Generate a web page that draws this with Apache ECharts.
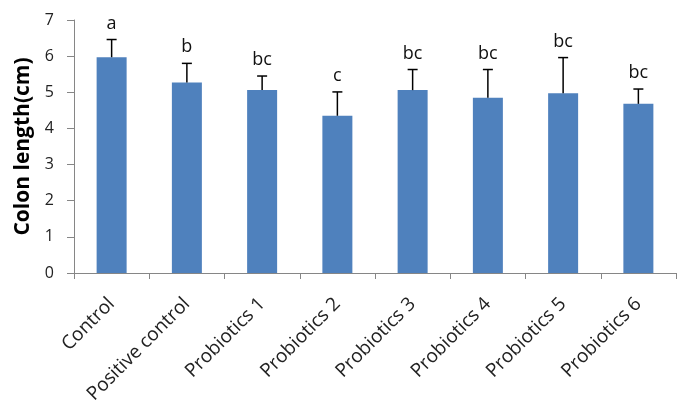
<!DOCTYPE html>
<html><head><meta charset="utf-8">
<script src="https://cdn.jsdelivr.net/npm/echarts@6/dist/echarts.min.js"></script>
<style>html,body{margin:0;padding:0;background:#fff}#c{width:694px;height:412px}</style>
</head><body><div id="c"></div>
<script>
var categories = ['Control','Positive control','Probiotics 1','Probiotics 2','Probiotics 3','Probiotics 4','Probiotics 5','Probiotics 6'];
var means = [5.97, 5.27, 5.06, 4.35, 5.06, 4.85, 4.97, 4.68];
var sds = [0.49, 0.53, 0.39, 0.66, 0.57, 0.78, 0.99, 0.41];
var letters = ['a','b','bc','c','bc','bc','bc','bc'];
var yTicks = [0,1,2,3,4,5,6,7];

var errData = means.map(function(m,i){return [i, m, m+sds[i], letters[i]];});
var chart = echarts.init(document.getElementById('c'));
var font = 'Open Sans';
chart.setOption({
  animation:false,
  grid:{left:74,right:18,top:20,bottom:139,containLabel:false},
  xAxis:{type:'category',data:categories,boundaryGap:true,
    axisLine:{lineStyle:{color:'#868686',width:1}},
    axisTick:{show:true,alignWithLabel:false,length:6,lineStyle:{color:'#868686'}},
    axisLabel:{rotate:45,color:'#222',fontSize:19,fontFamily:font,margin:28,interval:0}},
  yAxis:{type:'value',min:0,max:7,interval:1,
    name:'Colon length(cm)',nameLocation:'middle',nameGap:39,nameRotate:90,
    nameTextStyle:{fontSize:21,fontWeight:'bold',color:'#000',fontFamily:font},
    axisLine:{show:true,lineStyle:{color:'#868686'}},
    axisTick:{show:true,inside:false,length:7,lineStyle:{color:'#868686'}},
    splitLine:{show:false},
    axisLabel:{color:'#222',fontSize:16,fontFamily:font,margin:20,
      formatter:function(v){return yTicks.indexOf(v)>=0?String(v):'';}}},
  series:[
    {type:'bar',data:means,barWidth:30,itemStyle:{color:'#4F81BD'}},
    {type:'custom',data:errData,z:10,
     renderItem:function(params,api){
       var x=api.value(0);
       var b=api.coord([x,api.value(1)]);
       var t=api.coord([x,api.value(2)]);
       var hw=5;
       return {type:'group',children:[
         {type:'line',shape:{x1:b[0],y1:b[1],x2:t[0],y2:t[1]},style:{stroke:'#000',lineWidth:1.5}},
         {type:'line',shape:{x1:t[0]-hw,y1:t[1],x2:t[0]+hw,y2:t[1]},style:{stroke:'#000',lineWidth:1.5}},
         {type:'text',style:{text:letters[params.dataIndex],x:t[0],y:t[1]-7,align:'center',verticalAlign:'bottom',
           fontSize:18,fontFamily:font,fill:'#111'}}
       ]};
     }}
  ]
});
</script></body></html>
